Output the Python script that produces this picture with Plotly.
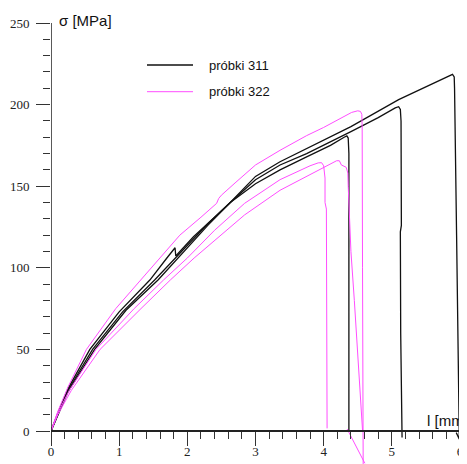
import plotly.graph_objects as go

# ---- data (l [mm], sigma [MPa]) ----
# specimens 311 (black)
l_311_a = [0, 0.1, 0.25, 0.57, 1.0, 1.45, 1.7, 1.82, 1.83, 2.09, 2.4, 2.63, 3.0, 3.36, 3.75, 4.1, 4.3, 4.34, 4.36, 4.37, 4.37]
s_311_a = [0, 11, 26, 50, 73, 92.5, 106, 112.3, 107.2, 119, 131, 140, 151.5, 160, 168, 175, 180, 180.8, 179.5, 170, 0]

l_311_b = [0, 0.1, 0.25, 0.61, 1.05, 1.52, 2.0, 2.3, 2.63, 3.0, 3.36, 3.75, 4.4, 4.8, 5.05, 5.1, 5.125, 5.135, 5.14, 5.125, 5.13, 5.15, 5.15]
s_311_b = [0, 10.5, 25, 50, 73, 92.5, 114, 127, 140, 154, 163, 170, 183.4, 192, 198, 198.7, 197, 190, 126, 122, 60, 0, -4]

l_311_c = [0, 0.1, 0.25, 0.64, 1.1, 1.57, 2.0, 2.3, 2.63, 3.0, 3.36, 3.75, 4.4, 5.1, 5.5, 5.8, 5.89, 5.915, 5.92, 5.95, 5.99, 5.99, 5.945]
s_311_c = [0, 10, 24, 50, 74, 92.5, 112, 126, 140, 156, 165, 173, 186.5, 203, 211, 217, 218.5, 217, 210, 120, 0, -5, -1]

# specimens 322 (magenta)
l_322_a = [0, 0.1, 0.25, 0.52, 0.95, 1.32, 1.6, 1.89, 2.2, 2.43, 2.46, 2.5, 2.7, 3.0, 3.36, 3.75, 4.0, 4.2, 4.41, 4.5, 4.54, 4.56, 4.565, 4.57, 4.575, 4.58]
s_322_a = [0, 12, 27, 50, 75, 92.5, 106, 120, 131, 139.5, 142.5, 144.5, 152, 163, 172, 181, 186, 190.5, 195.2, 196.2, 195.8, 194, 185, 100, 0, -25]

l_322_b = [0, 0.1, 0.3, 0.72, 1.32, 1.75, 2.1, 2.5, 2.84, 3.36, 3.8, 4.0, 4.19, 4.23, 4.26, 4.33, 4.355, 4.36, 4.40, 4.45, 4.57, None, 4.345, 4.604]
s_322_b = [0, 10, 25, 50, 75, 92.5, 106, 120, 132.4, 147.5, 157, 161, 165.6, 165.6, 163, 161.6, 158, 150, 110, 80, 0.5, None, 1.2, -19.8]

l_322_c = [0, 0.1, 0.27, 0.66, 1.22, 1.65, 2.0, 2.4, 2.84, 3.36, 3.8, 3.92, 3.97, 4.0, 4.02, 4.02, 4.04, 4.04, 4.05]
s_322_c = [0, 11, 25, 50, 75, 92.5, 106, 123, 139.5, 154, 162.5, 164.3, 164.4, 162.5, 155, 140, 136, 110, 1.6]

# axis ticks
x_major = [0, 1, 2, 3, 4, 5, 6]
x_minor = [round(i * 0.2, 1) for i in range(31) if i % 5 != 0]
y_major = [0, 50, 100, 150, 200, 250]
y_minor = [v for v in range(10, 250, 10) if v % 50 != 0]

legend_labels = ["próbki 311", "próbki 322"]
BLACK = "#111111"
PINK = "#ff4dff"

# the page body has an 8px margin, so the figure is laid out 8px smaller
OFF = 8
W, H = 467 - OFF, 464 - OFF
ML, MR, MT, MB = 51 - OFF, 7, 23 - OFF, 0
plot_h = H - MT - MB
px_per_mpa = 408 / 250.0
y_low = 250 - plot_h / px_per_mpa
zero_pos = (0 - y_low) / (250 - y_low)

fig = go.Figure()
for lx, sy in [(l_311_a, s_311_a), (l_311_b, s_311_b), (l_311_c, s_311_c)]:
    fig.add_trace(go.Scatter(x=lx, y=sy, mode="lines", line=dict(color=BLACK, width=1.3),
                             showlegend=False, hoverinfo="skip"))
for lx, sy in [(l_322_a, s_322_a), (l_322_b, s_322_b), (l_322_c, s_322_c)]:
    fig.add_trace(go.Scatter(x=lx, y=sy, mode="lines", line=dict(color=PINK, width=1),
                             showlegend=False, hoverinfo="skip", connectgaps=False))

tickfont = dict(family="Liberation Serif, Times New Roman, serif", size=13, color="#222")

fig.update_layout(
    width=W, height=H,
    margin=dict(l=ML, r=MR, t=MT, b=MB, autoexpand=False),
    paper_bgcolor="white", plot_bgcolor="white",
    showlegend=False,
    xaxis=dict(range=[0, 6], anchor="free", position=zero_pos, automargin=False,
               showgrid=False, zeroline=False, showline=True, linecolor="#222", linewidth=2,
               tickmode="array", tickvals=x_major, ticktext=[str(v) for v in x_major],
               ticks="outside", ticklen=14, tickwidth=1, tickcolor="#333",
               minor=dict(tickmode="array", tickvals=x_minor, ticks="outside", ticklen=7,
                          tickwidth=1, tickcolor="#333"),
               ticklabelstandoff=-6,
               tickfont=tickfont),
    yaxis=dict(range=[y_low, 250], showgrid=False, zeroline=False, showline=False, automargin=False,
               tickmode="array", tickvals=y_major, ticktext=[str(v) for v in y_major],
               ticks="outside", ticklen=14, tickwidth=1, tickcolor="#333",
               minor=dict(tickmode="array", tickvals=y_minor, ticks="outside", ticklen=7,
                          tickwidth=1, tickcolor="#333"),
               ticklabelstandoff=4,
               tickfont=tickfont),
)

# y axis line from 0 to 250
fig.add_shape(type="line", xref="x", yref="y", x0=0, x1=0, y0=0, y1=250,
              line=dict(color="#222", width=1.5))

def px_x(x):
    return (x - OFF - ML) / (W - ML - MR)

def px_y(y):
    return (H - MB - (y - OFF)) / plot_h

sans = "Liberation Sans, Arial, sans-serif"
fig.add_annotation(xref="paper", yref="paper", x=px_x(57), y=px_y(21), xanchor="left", yanchor="middle",
                   text="σ [MPa]", showarrow=False, font=dict(family=sans, size=15, color="#111"))
fig.add_annotation(xref="paper", yref="paper", x=px_x(425), y=px_y(420), xanchor="left", yanchor="middle",
                   text="l [mm]", showarrow=False, font=dict(family=sans, size=15, color="#111"))

# manual legend
for i, (lab, col, yy) in enumerate([(legend_labels[0], BLACK, 65), (legend_labels[1], PINK, 91.7)]):
    fig.add_shape(type="line", xref="paper", yref="paper", x0=px_x(147), x1=px_x(193),
                  y0=px_y(yy), y1=px_y(yy), line=dict(color=col, width=1.3 if i == 0 else 1))
    fig.add_annotation(xref="paper", yref="paper", x=px_x(207), y=px_y(yy), xanchor="left", yanchor="middle",
                       text=lab, showarrow=False, font=dict(family=sans, size=13, color="#111"))

fig.write_html("out.html")
